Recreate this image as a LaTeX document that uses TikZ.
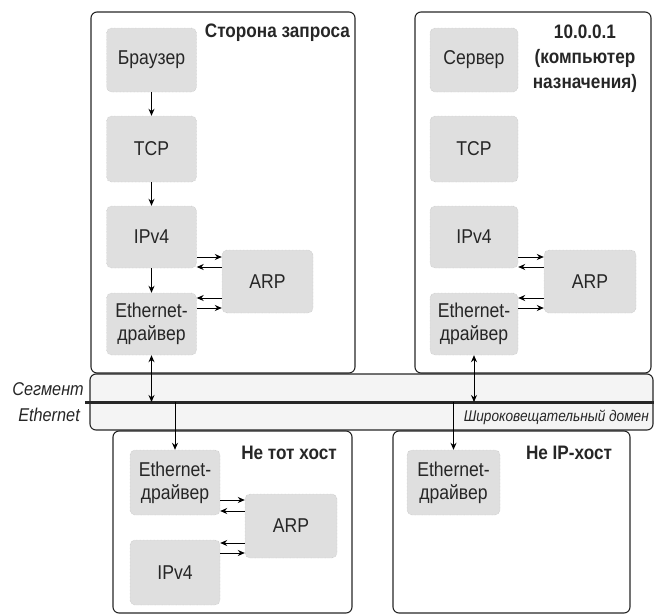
\documentclass[tikz,border=0pt]{standalone}
\usepackage{fontspec}
\setmainfont{Liberation Sans}[FakeStretch=0.88]
\usetikzlibrary{arrows.meta,calc}
\begin{document}
\begin{tikzpicture}[x=1pt,y=-1pt,
 blk/.style={draw=gray!60, densely dotted, fill=gray!25, rounded corners=5pt, minimum width=90pt, minimum height=64pt, inner sep=0pt, align=center, font=\fontsize{20}{23}\selectfont, text=black!85},
 host/.style={draw=black!85, line width=1.1pt, rounded corners=6pt, inner sep=0pt},
 band/.style={draw=black!85, line width=1.1pt, rounded corners=6pt, fill=gray!9, inner sep=0pt},
 ttl/.style={font=\fontsize{19.5}{25}\selectfont\bfseries, text=black!85, inner sep=0pt, align=center},
 lbl/.style={font=\fontsize{18.5}{20}\selectfont\itshape, text=black!85, inner sep=0pt},
 arr/.style={line width=1pt, -{Stealth[length=7pt,width=6pt]}},
 barr/.style={line width=1pt, {Stealth[length=7pt,width=6pt]}-{Stealth[length=7pt,width=6pt]}},
]
\useasboundingbox (0,0) rectangle (654,616);
% hosts
\node[host, minimum width=264pt, minimum height=361pt] (hostA) at (223,192.5) {};
\node[host, minimum width=236pt, minimum height=361pt] (hostB) at (533,192.5) {};
\node[band, minimum width=563pt, minimum height=56pt] (bandN) at (371.5,402) {};
\node[host, minimum width=239pt, minimum height=182pt] (hostC) at (232.5,522) {};
\node[host, minimum width=237pt, minimum height=182pt] (hostD) at (511.5,522) {};
% titles
\node[ttl, anchor=east] (tA) at (350,33) {Сторона запроса};
\node[ttl] (tB) at (585,59) {10.0.0.1\\(компьютер\\назначения)};
\node[ttl] (tC) at (289,453) {Не тот хост};
\node[ttl] (tD) at (569,453) {Не IP-хост};
% host A blocks
\node[blk] (brA) at (151.5,60) {Браузер};
\node[blk, minimum height=66pt] (tcpA) at (151.5,149) {TCP};
\node[blk, minimum height=62pt] (ipA) at (151.5,237) {IPv4};
\node[blk, minimum height=62pt] (ethA) at (151.5,324) {Ethernet-\\драйвер};
\node[blk, minimum width=91pt, minimum height=63pt] (arpA) at (267.5,281.5) {ARP};
% host B blocks
\node[blk, minimum width=88pt] (srvB) at (474,60) {Сервер};
\node[blk, minimum width=88pt, minimum height=66pt] (tcpB) at (474,149) {TCP};
\node[blk, minimum width=88pt, minimum height=62pt] (ipB) at (474,237) {IPv4};
\node[blk, minimum width=88pt, minimum height=62pt] (ethB) at (474,324) {Ethernet-\\драйвер};
\node[blk, minimum width=92pt, minimum height=63pt] (arpB) at (590,281.5) {ARP};
% host C blocks
\node[blk, minimum height=65pt] (ethC) at (175,482.5) {Ethernet-\\драйвер};
\node[blk, minimum width=92pt] (arpC) at (291,526) {ARP};
\node[blk, minimum height=65pt] (ipC) at (175,572.5) {IPv4};
% host D blocks
\node[blk, minimum width=93pt, minimum height=65pt] (ethD) at (453.5,482.5) {Ethernet-\\драйвер};
% segment
\coordinate (l0) at (85,402);
\coordinate (l1) at (654,402);
\draw[line width=3pt, black!85] (l0) -- (l1);
\node[lbl, anchor=east] (sg1) at (84,389) {Сегмент};
\node[lbl, anchor=east] (sg2) at (80,415) {Ethernet};
\node[lbl, anchor=east, font=\fontsize{15.5}{17}\selectfont\itshape] (bd) at (649,417) {Широковещательный домен};
% vertical arrows A
\draw[arr] (brA) -- (tcpA);
\draw[arr] (tcpA) -- (ipA);
\draw[arr] (ipA) -- (ethA);
% horizontal arrows A
\draw[arr] (ipA.east |- 0,257) -- (arpA.west |- 0,257);
\draw[arr] (arpA.west |- 0,267) -- (ipA.east |- 0,267);
\draw[arr] (arpA.west |- 0,298) -- (ethA.east |- 0,298);
\draw[arr] (ethA.east |- 0,308) -- (arpA.west |- 0,308);
% horizontal arrows B
\draw[arr] (ipB.east |- 0,257) -- (arpB.west |- 0,257);
\draw[arr] (arpB.west |- 0,267) -- (ipB.east |- 0,267);
\draw[arr] (arpB.west |- 0,298) -- (ethB.east |- 0,298);
\draw[arr] (ethB.east |- 0,308) -- (arpB.west |- 0,308);
% horizontal arrows C
\draw[arr] (ethC.east |- 0,500) -- (arpC.west |- 0,500);
\draw[arr] (arpC.west |- 0,511) -- (ethC.east |- 0,511);
\draw[arr] (arpC.west |- 0,543) -- (ipC.east |- 0,543);
\draw[arr] (ipC.east |- 0,553) -- (arpC.west |- 0,553);
% segment connections
\draw[barr] (ethA.south) -- (ethA.south |- l0);
\draw[barr] (ethB.south) -- (ethB.south |- l0);
\draw[arr] (ethC.north |- l0) -- (ethC.north);
\draw[arr] (ethD.north |- l0) -- (ethD.north);
\end{tikzpicture}
\end{document}
